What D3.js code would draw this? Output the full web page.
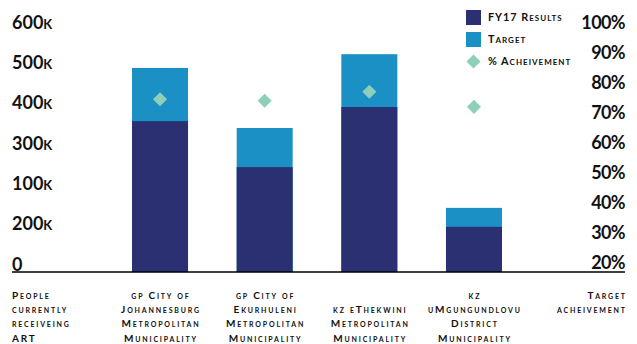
<!DOCTYPE html>
<html>
<head>
<meta charset="utf-8">
<script src="https://cdn.jsdelivr.net/npm/d3@7"></script>
<style>
  html, body { margin: 0; padding: 0; background: #fff; }
  svg { display: block; font-family: Lato, "Open Sans", sans-serif; font-weight: 700; }
  text { font-variant: small-caps; fill: #111; }
  .cat { font-size: 10px; letter-spacing: 1.8px; }
  .leg { font-size: 10.8px; letter-spacing: 1px; }
</style>
</head>
<body>
<svg id="chart" width="637" height="344"></svg>
<script>
// Category labels, one array of lines per bar
const categories = [
  ["gp City of", "Johannesburg", "Metropolitan", "Municipality"],
  ["gp City of", "Ekurhuleni", "Metropolitan", "Municipality"],
  ["kz eThekwini", "Metropolitan", "Municipality"],
  ["kz", "uMgungundlovu", "District", "Municipality"]
];
const categoryKeys = ["Johannesburg", "Ekurhuleni", "eThekwini", "uMgungundlovu"];

// People on ART (thousands)
const fy17Results = [374, 260, 409, 112];
const targets = [506, 357, 540, 159];
// Target achievement (%)
const achievement = [74.5, 74, 77, 72];

// Axis ticks and their printed labels
const leftTicks = [600, 500, 400, 300, 200, 100, 0];
const leftTickLabels = ["600k", "500k", "400k", "300k", "100k", "200k", "0"];
const rightTicks = [100, 90, 80, 70, 60, 50, 40, 30, 20];
const rightTickLabels = ["100%", "90%", "80%", "70%", "60%", "50%", "40%", "30%", "20%"];

const leftTitle = ["People", "currently", "receiveing", "ART"];
const rightTitle = ["Target", "acheivement"];
const legendItems = ["FY17 Results", "Target", "% Acheivement"];

const colors = { results: "#2a3072", target: "#1a90c4", achieve: "#8ecfba" };

const svg = d3.select("#chart");

const baseY = 272;
const x = d3.scaleBand()
  .domain(categoryKeys)
  .range([107.7, 526.3])
  .paddingInner(0.465)
  .paddingOuter(0.2325);

const yLeft = d3.scaleLinear().domain([0, 600]).range([baseY, 30]);
const yRight = d3.scaleLinear().domain([20, 100]).range([263, 22.7]);

// Left value labels, sitting just above each tick
svg.append("g").selectAll("text")
  .data(leftTicks)
  .join("text")
  .attr("x", 12)
  .attr("y", d => yLeft(d) - 1.5)
  .attr("font-size", 18)
  .text((d, i) => leftTickLabels[i]);

// Right percentage labels
svg.append("g").selectAll("text")
  .data(rightTicks)
  .join("text")
  .attr("x", 625)
  .attr("y", d => yRight(d))
  .attr("dy", "0.36em")
  .attr("text-anchor", "end")
  .attr("font-size", 18)
  .attr("letter-spacing", "-0.6px")
  .text((d, i) => rightTickLabels[i]);

// Target bars behind the results bars
svg.append("g").selectAll("rect")
  .data(targets)
  .join("rect")
  .attr("x", (d, i) => x(categoryKeys[i]))
  .attr("width", x.bandwidth())
  .attr("y", d => yLeft(d))
  .attr("height", d => baseY - yLeft(d))
  .attr("fill", colors.target);

svg.append("g").selectAll("rect")
  .data(fy17Results)
  .join("rect")
  .attr("x", (d, i) => x(categoryKeys[i]))
  .attr("width", x.bandwidth())
  .attr("y", d => yLeft(d))
  .attr("height", d => baseY - yLeft(d))
  .attr("fill", colors.results);

// Baseline
svg.append("line")
  .attr("x1", 12).attr("x2", 625)
  .attr("y1", baseY).attr("y2", baseY)
  .attr("stroke", "#000").attr("stroke-width", 1.5);

// Achievement diamonds on the right scale
const diamond = d3.symbol().type(d3.symbolSquare).size(100);
svg.append("g").selectAll("path")
  .data(achievement)
  .join("path")
  .attr("d", diamond)
  .attr("transform", (d, i) =>
    `translate(${x(categoryKeys[i]) + x.bandwidth() / 2},${yRight(d)}) rotate(45)`)
  .attr("fill", colors.achieve);

// Category labels, bottom-aligned under each bar
const lineH = 14.2;
const lastBase = 341.6;
categories.forEach((lines, i) => {
  const cx = x(categoryKeys[i]) + x.bandwidth() / 2;
  const t = svg.append("text")
    .attr("class", "cat")
    .attr("text-anchor", "middle");
  lines.forEach((ln, j) => {
    t.append("tspan")
      .attr("x", cx + 0.9)
      .attr("y", lastBase - (lines.length - 1 - j) * lineH)
      .text(ln);
  });
});

// Axis titles, top-aligned
const firstBase = 299;
const lt = svg.append("text").attr("class", "cat");
leftTitle.forEach((ln, j) => {
  lt.append("tspan").attr("x", 12).attr("y", firstBase + j * lineH).text(ln);
});
const rt = svg.append("text").attr("class", "cat").attr("text-anchor", "end");
rightTitle.forEach((ln, j) => {
  rt.append("tspan").attr("x", 626.8).attr("y", firstBase + j * lineH).text(ln);
});

// Legend
const legend = svg.append("g");
const legendColors = [colors.results, colors.target, colors.achieve];
const legendY = [17.5, 39.5, 61.5];
legendItems.forEach((label, i) => {
  if (i < 2) {
    legend.append("rect")
      .attr("x", 466).attr("y", legendY[i] - 7.5)
      .attr("width", 15).attr("height", 15)
      .attr("fill", legendColors[i]);
  } else {
    legend.append("path")
      .attr("d", diamond)
      .attr("transform", `translate(473.5,${legendY[i]}) rotate(45)`)
      .attr("fill", legendColors[i]);
  }
  legend.append("text")
    .attr("class", "leg")
    .attr("x", 488)
    .attr("y", legendY[i])
    .attr("dy", "0.36em")
    .text(label);
});
</script>
</body>
</html>
